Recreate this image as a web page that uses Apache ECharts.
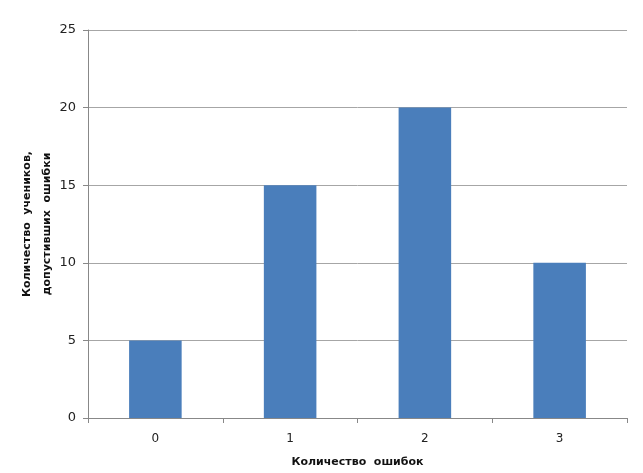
<!DOCTYPE html>
<html>
<head>
<meta charset="utf-8">
<script src="https://cdn.jsdelivr.net/npm/echarts@6/dist/echarts.min.js"></script>
<style>html,body{margin:0;padding:0;background:#fff;width:100%;height:100%;overflow:hidden;}#c{width:100vw;height:100vh;}</style>
</head>
<body>
<div id="c"></div>
<script>
const categories = ['0', '1', '2', '3'];
const values = [5, 15, 20, 10];
const yTicks = [0, 5, 10, 15, 20, 25];

const chart = echarts.init(document.getElementById('c'));
chart.setOption({
  animation: false,
  backgroundColor: '#fff',
  grid: { left: 88, right: 16, top: 30, bottom: 54, containLabel: false },
  xAxis: {
    type: 'category',
    data: categories,
    name: 'Количество  ошибок',
    nameLocation: 'middle',
    nameGap: 39,
    nameMoveOverlap: false,
    nameTextStyle: { fontFamily: 'DejaVu Sans', fontSize: 11, fontWeight: 'bold', color: '#111' },
    axisLine: { lineStyle: { color: '#888', width: 1 } },
    axisTick: { show: true, alignWithLabel: false, length: 5, lineStyle: { color: '#888' } },
    axisLabel: { fontFamily: 'DejaVu Sans', fontSize: 12, color: '#222', margin: 15 }
  },
  yAxis: {
    type: 'value',
    min: 0, max: 25, interval: 5,
    name: 'Количество  учеников,\nдопустивших  ошибки',
    nameLocation: 'middle',
    nameGap: 31,
    nameMoveOverlap: false,
    nameTextStyle: { fontFamily: 'DejaVu Sans', fontSize: 11, fontWeight: 'bold', color: '#111', lineHeight: 20 },
    axisLine: { show: true, lineStyle: { color: '#888', width: 1 } },
    axisTick: { show: true, length: 5, lineStyle: { color: '#888' } },
    axisLabel: { fontFamily: 'DejaVu Sans', fontSize: 13, color: '#222', margin: 12,
      formatter: v => yTicks.includes(v) ? String(v) : '' },
    splitLine: { lineStyle: { color: '#a6a6a6', width: 1 } }
  },
  series: [{
    type: 'bar',
    data: values,
    barWidth: '39%',
    itemStyle: { color: '#4A7EBB' }
  }]
});
</script>
</body>
</html>
